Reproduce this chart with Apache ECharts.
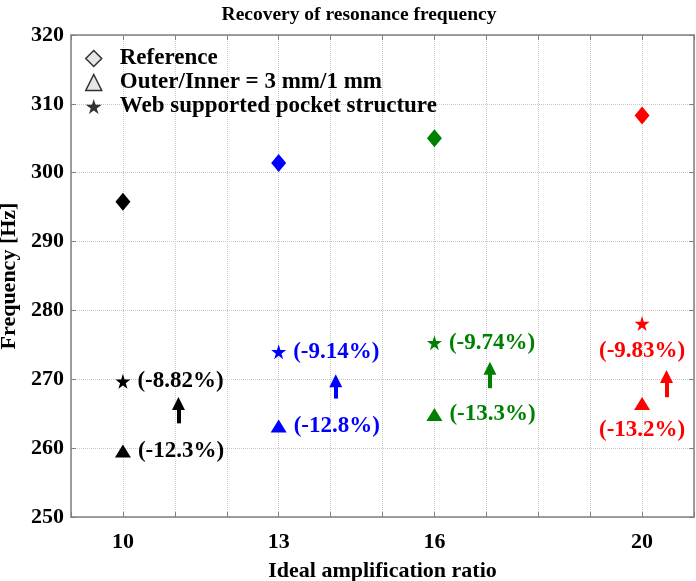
<!DOCTYPE html>
<html>
<head>
<meta charset="utf-8">
<script src="https://cdn.jsdelivr.net/npm/echarts@6/dist/echarts.min.js"></script>
<style>
  html, body { margin: 0; padding: 0; background: #fff; }
  #chart { width: 696px; height: 581px; }
</style>
</head>
<body>
<div id="chart"></div>
<script>
// 共振频率恢复 散点图
var ratios = [10, 13, 16, 20];
var pointColors = ["#000000", "#0000ff", "#008000", "#ff0000"];
var refFreq = [295.8, 301.4, 305.0, 308.3];
var starFreq = [269.7, 274.0, 275.3, 278.1];
var triFreq = [259.6, 263.2, 264.9, 266.5];
var starLabels = ["(-8.82%)", "(-9.14%)", "(-9.74%)", "(-9.83%)"];
var triLabels = ["(-12.3%)", "(-12.8%)", "(-13.3%)", "(-13.2%)"];
var xTickLabels = [10, 13, 16, 20];
// arrows between triangle and star
var arrowX = [11.07, 14.1, 17.07, 20.47];
var arrowFrom = [263.6, 267.2, 268.7, 267.4];
var arrowTo = [266.5, 269.8, 271.6, 270.4];

var FONT = "'Liberation Serif', 'Times New Roman', serif";
var STAR = "path://M50,0 L61,35 L98,35 L68,57 L79,91 L50,70 L21,91 L32,57 L2,35 L39,35 Z";
var AXIS_COLOR = "#808080";

function points(vals, labels, lastPos) {
  return vals.map(function(v, i) {
    var item = {
      value: [ratios[i], v],
      itemStyle: { color: pointColors[i], opacity: 1 }
    };
    if (labels) {
      item.label = {
        show: true,
        formatter: labels[i],
        position: i === vals.length - 1 ? lastPos : "right",
        distance: i === vals.length - 1 ? 9 : 7,
        color: pointColors[i],
        fontFamily: FONT,
        fontWeight: "bold",
        fontSize: 23
      };
    }
    return item;
  });
}

var arrows = arrowX.map(function(x, i) {
  return [
    {
      coord: [x, arrowFrom[i]],
      lineStyle: { color: pointColors[i], width: 4, type: "solid", opacity: 1 },
      itemStyle: { color: pointColors[i] }
    },
    { coord: [x, arrowTo[i]] }
  ];
});

var myChart = echarts.init(document.getElementById("chart"));
myChart.setOption({
  animation: false,
  title: {
    text: "Recovery of resonance frequency",
    left: 354,
    textAlign: "center",
    top: 0,
    textStyle: { fontFamily: FONT, fontWeight: "bold", fontSize: 19.5, color: "#000" }
  },
  grid: { left: 71, right: 2, top: 35, bottom: 64, outerBoundsMode: "none", containLabel: false },
  legend: {
    orient: "vertical",
    left: 80,
    top: 42,
    itemWidth: 16,
    itemHeight: 16,
    itemGap: 1,
    selectedMode: false,
    textStyle: {
      fontFamily: FONT, fontWeight: "bold", fontSize: 23, color: "#000",
      padding: [0, 0, 0, 13]
    },
    data: [
      { name: "Reference", icon: "diamond", itemStyle: { color: "#e0e0e0", borderColor: "#000", borderWidth: 1.5 } },
      { name: "Outer/Inner = 3 mm/1 mm", icon: "triangle", itemStyle: { color: "#e0e0e0", borderColor: "#000", borderWidth: 1.5 } },
      { name: "Web supported pocket structure", icon: STAR, itemStyle: { color: "#000", borderWidth: 0 } }
    ]
  },
  xAxis: [
    {
      type: "value",
      min: 9,
      max: 21,
      interval: 1,
      name: "Ideal amplification ratio",
      nameLocation: "middle",
      nameGap: 43,
      nameTextStyle: { fontFamily: FONT, fontWeight: "bold", fontSize: 22, color: "#000" },
      axisLine: { lineStyle: { color: AXIS_COLOR, width: 1.5 } },
      axisTick: { inside: true, length: 5, lineStyle: { color: AXIS_COLOR } },
      axisLabel: {
        margin: 14,
        fontFamily: FONT, fontWeight: "bold", fontSize: 22, color: "#000",
        formatter: function(v) { return xTickLabels.indexOf(v) >= 0 ? String(v) : ""; }
      },
      splitLine: { show: true, lineStyle: { type: "dotted", color: "#c8c8c8" } }
    },
    {
      type: "value",
      position: "top",
      min: 9,
      max: 21,
      interval: 1,
      axisLine: { show: true, lineStyle: { color: AXIS_COLOR, width: 1.5 } },
      axisTick: { inside: true, length: 5, lineStyle: { color: AXIS_COLOR } },
      axisLabel: { show: false },
      splitLine: { show: false }
    }
  ],
  yAxis: [
    {
      type: "value",
      min: 250,
      max: 320,
      interval: 10,
      name: "Frequency [Hz]",
      nameLocation: "middle",
      nameGap: 43,
      nameTextStyle: { fontFamily: FONT, fontWeight: "bold", fontSize: 22, color: "#000" },
      axisLine: { show: true, lineStyle: { color: AXIS_COLOR, width: 1.5 } },
      axisTick: { show: true, inside: true, length: 5, lineStyle: { color: AXIS_COLOR } },
      axisLabel: { margin: 7, fontFamily: FONT, fontWeight: "bold", fontSize: 22, color: "#000" },
      splitLine: { show: true, lineStyle: { type: "dotted", color: "#c8c8c8" } }
    },
    {
      type: "value",
      position: "right",
      min: 250,
      max: 320,
      interval: 10,
      axisLine: { show: true, lineStyle: { color: AXIS_COLOR, width: 1.5 } },
      axisTick: { show: true, inside: true, length: 5, lineStyle: { color: AXIS_COLOR } },
      axisLabel: { show: false },
      splitLine: { show: false }
    }
  ],
  series: [
    {
      name: "Reference",
      type: "scatter",
      symbol: "diamond",
      symbolSize: [15, 18],
      data: points(refFreq, null)
    },
    {
      name: "Outer/Inner = 3 mm/1 mm",
      type: "scatter",
      symbol: "triangle",
      symbolSize: [16, 13],
      data: points(triFreq, triLabels, "bottom")
    },
    {
      name: "Web supported pocket structure",
      type: "scatter",
      symbol: STAR,
      symbolSize: 15,
      data: points(starFreq, starLabels, "bottom"),
      markLine: {
        silent: true,
        symbol: ["none", "triangle"],
        symbolSize: 13,
        label: { show: false },
        emphasis: { disabled: true },
        data: arrows
      }
    }
  ]
});
</script>
</body>
</html>
